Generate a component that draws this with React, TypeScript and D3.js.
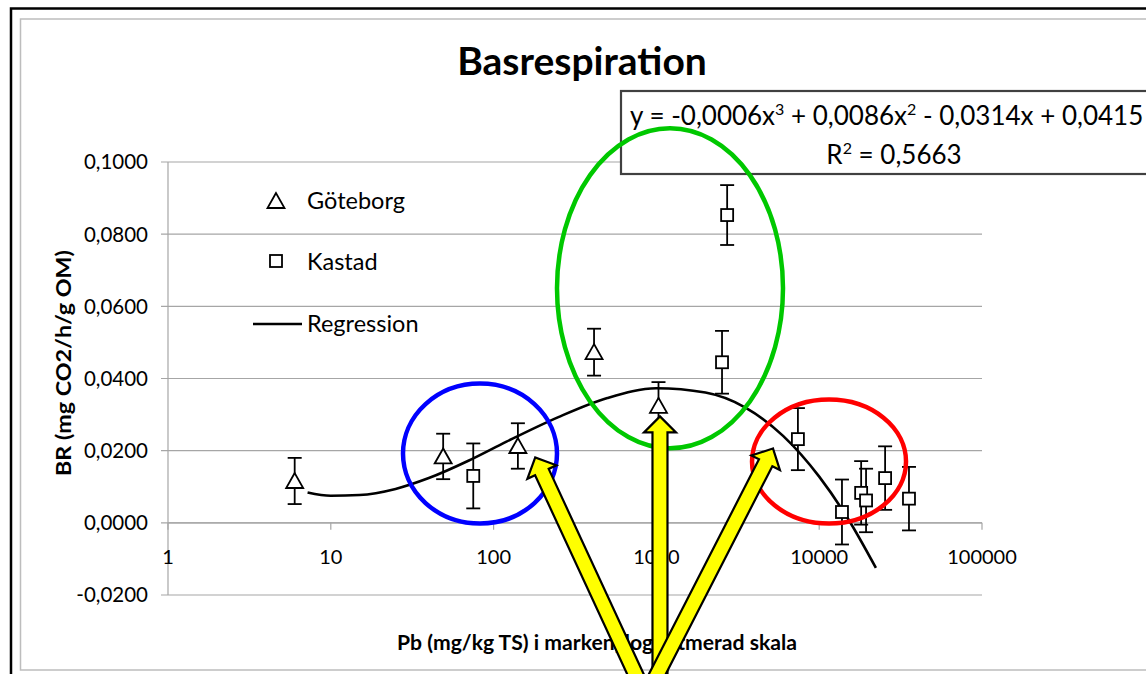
import { useEffect, useRef } from 'react';
import * as d3 from 'd3';

// Göteborg (triangles)
const gbgPb = [6, 49, 141, 414, 1030];
const gbgBr = [0.0116, 0.0184, 0.0213, 0.0473, 0.0324];
const gbgErr = [0.0064, 0.0063, 0.0063, 0.0065, 0.0066];

// Kastad (squares)
const kasPb = [75, 2530, 2720, 7400, 13800, 18100, 19400, 25400, 35600];
const kasBr = [0.013, 0.0445, 0.0853, 0.0232, 0.003, 0.0083, 0.0062, 0.0124, 0.0067];
const kasErr = [0.009, 0.0087, 0.0083, 0.0086, 0.009, 0.0088, 0.0088, 0.0088, 0.0088];

// Regression curve
const regPb = [7.2, 10, 15, 25, 40, 70, 120, 250, 500, 1000, 2000, 3500, 6000, 10000, 15000, 22300];
const regBr = [0.0084, 0.0075, 0.0077, 0.0094, 0.0124, 0.0172, 0.0225, 0.0293, 0.0346, 0.0373, 0.0361, 0.032, 0.0241, 0.0128, 0.0012, -0.0125];

const xTicks = [1, 10, 100, 1000, 10000, 100000];
const yTicks = [-0.02, 0, 0.02, 0.04, 0.06, 0.08, 0.1];

const titleText = 'Basrespiration';
const xTitle = 'Pb (mg/kg TS) i marken, logaritmerad skala';
const yTitle = 'BR (mg CO2/h/g OM)';
const legendLabels = ['Göteborg', 'Kastad', 'Regression'];

// hand-drawn highlights, centred in data units
const rings = [
  { pb: 82.5, br: 0.0192, rx: 77, ry: 70, color: '#0000ff' },
  { pb: 1212, br: 0.065, rx: 113, ry: 160, color: '#00c800' },
  { pb: 11490, br: 0.017, rx: 77, ry: 62, color: '#ff0000' },
];
const arrows = [
  { tipPb: 1052, tipBr: 0.0295, tailPb: 1052, tailBr: -0.05 },
  { tipPb: 180, tipBr: 0.0181, tailPb: 900, tailBr: -0.05 },
  { tipPb: 5200, tipBr: 0.0206, tailPb: 820, tailBr: -0.05 },
];

const FONT = 'Lato, "Open Sans", sans-serif';

function arrowPoints(tip: number[], tail: number[], shaft: number, head: number, headLen: number) {
  const dx = tail[0] - tip[0];
  const dy = tail[1] - tip[1];
  const len = Math.hypot(dx, dy);
  const ux = dx / len, uy = dy / len;
  const px = -uy, py = ux;
  const bx = tip[0] + ux * headLen, by = tip[1] + uy * headLen;
  const pts = [
    [tip[0], tip[1]],
    [bx + px * head, by + py * head],
    [bx + px * shaft, by + py * shaft],
    [tail[0] + px * shaft, tail[1] + py * shaft],
    [tail[0] - px * shaft, tail[1] - py * shaft],
    [bx - px * shaft, by - py * shaft],
    [bx - px * head, by - py * head],
  ];
  return pts.map(p => p.join(',')).join(' ');
}

export default function App() {
  const svgRef = useRef<SVGSVGElement>(null);

  useEffect(() => {
    if (!svgRef.current) return;
    const svg = d3.select(svgRef.current);
    svg.selectAll('*').remove();

    const x = d3.scaleLog().domain([1, 100000]).range([168, 982]);
    const y = d3.scaleLinear().domain([-0.02, 0.1]).range([595, 162]);
    const fmt = (v: number) => v.toFixed(4).replace('.', ',');

    // frames
    svg.append('rect').attr('width', 1146).attr('height', 674).attr('fill', '#fff');
    svg.append('rect').attr('x', 11).attr('y', 8.5).attr('width', 1200).attr('height', 700)
      .attr('fill', 'none').attr('stroke', '#000').attr('stroke-width', 2.5);
    svg.append('rect').attr('x', 20.5).attr('y', 19).attr('width', 1200).attr('height', 651)
      .attr('fill', 'none').attr('stroke', '#bdbdbd').attr('stroke-width', 1.5);

    // grid
    svg.append('g').selectAll('line').data(yTicks).enter().append('line')
      .attr('x1', 161).attr('x2', x(100000))
      .attr('y1', d => y(d)).attr('y2', d => y(d))
      .attr('stroke', '#a6a6a6').attr('stroke-width', 1.2);

    // y axis
    svg.append('line').attr('x1', x(1)).attr('x2', x(1)).attr('y1', y(0.1)).attr('y2', y(-0.02))
      .attr('stroke', '#a6a6a6').attr('stroke-width', 1.2);
    svg.append('g').selectAll('text').data(yTicks).enter().append('text')
      .attr('x', 148).attr('y', d => y(d)).attr('dy', '0.36em')
      .attr('text-anchor', 'end').attr('font-family', FONT).attr('font-size', 20.5)
      .text(d => fmt(d));

    // x axis at zero
    svg.append('line').attr('x1', x(1)).attr('x2', x(100000)).attr('y1', y(0)).attr('y2', y(0))
      .attr('stroke', '#a6a6a6').attr('stroke-width', 1.2);
    svg.append('g').selectAll('line').data(xTicks).enter().append('line')
      .attr('x1', d => x(d)).attr('x2', d => x(d)).attr('y1', y(0)).attr('y2', y(0) + 7)
      .attr('stroke', '#a6a6a6').attr('stroke-width', 1.2);
    svg.append('g').selectAll('text').data(xTicks).enter().append('text')
      .attr('x', d => x(d)).attr('y', y(0) + 41)
      .attr('text-anchor', 'middle').attr('font-family', FONT).attr('font-size', 20)
      .text(d => String(d));

    // axis titles
    svg.append('text').attr('x', 597).attr('y', 650).attr('text-anchor', 'middle')
      .attr('font-family', FONT).attr('font-weight', 'bold').attr('font-size', 20)
      .attr('textLength', 400).attr('lengthAdjust', 'spacingAndGlyphs').text(xTitle);
    svg.append('text').attr('transform', 'translate(71,363) rotate(-90)').attr('text-anchor', 'middle')
      .attr('font-family', FONT).attr('font-weight', 'bold').attr('font-size', 21)
      .attr('textLength', 226).attr('lengthAdjust', 'spacingAndGlyphs').text(yTitle);

    // title
    svg.append('text').attr('x', 582).attr('y', 75).attr('text-anchor', 'middle')
      .attr('font-family', FONT).attr('font-weight', 'bold').attr('font-size', 39).text(titleText);

    // regression
    const line = d3.line<number>().x((d, i) => x(regPb[i])).y(d => y(d)).curve(d3.curveMonotoneX);
    svg.append('path').datum(regBr).attr('d', line).attr('fill', 'none')
      .attr('stroke', '#000').attr('stroke-width', 2.6);

    // error bars
    const drawErr = (pb: number[], br: number[], err: number[]) => {
      const g = svg.append('g').attr('stroke', '#000').attr('stroke-width', 1.8);
      pb.forEach((p, i) => {
        const cx = x(p);
        const top = y(br[i] + err[i]);
        const bot = y(br[i] - err[i]);
        g.append('line').attr('x1', cx).attr('x2', cx).attr('y1', top).attr('y2', bot);
        g.append('line').attr('x1', cx - 7).attr('x2', cx + 7).attr('y1', top).attr('y2', top);
        g.append('line').attr('x1', cx - 7).attr('x2', cx + 7).attr('y1', bot).attr('y2', bot);
      });
    };
    drawErr(gbgPb, gbgBr, gbgErr);
    drawErr(kasPb, kasBr, kasErr);

    const tri = (cx: number, cy: number) =>
      `M${cx},${cy - 8}L${cx - 8.5},${cy + 7}L${cx + 8.5},${cy + 7}Z`;
    svg.append('g').selectAll('path').data(gbgBr).enter().append('path')
      .attr('d', (d, i) => tri(x(gbgPb[i]), y(d)))
      .attr('fill', '#fff').attr('stroke', '#000').attr('stroke-width', 1.8);
    svg.append('g').selectAll('rect').data(kasBr).enter().append('rect')
      .attr('x', (d, i) => x(kasPb[i]) - 6).attr('y', d => y(d) - 6)
      .attr('width', 12).attr('height', 12)
      .attr('fill', '#fff').attr('stroke', '#000').attr('stroke-width', 1.8);

    // legend
    const lg = svg.append('g').attr('font-family', FONT).attr('font-size', 23.5);
    lg.append('path').attr('d', tri(276, 201)).attr('fill', '#fff').attr('stroke', '#000').attr('stroke-width', 1.8);
    lg.append('rect').attr('x', 270).attr('y', 255).attr('width', 12).attr('height', 12)
      .attr('fill', '#fff').attr('stroke', '#000').attr('stroke-width', 1.8);
    lg.append('line').attr('x1', 253).attr('x2', 302).attr('y1', 324).attr('y2', 324)
      .attr('stroke', '#000').attr('stroke-width', 2.6);
    [201, 262, 324].forEach((ly, i) => {
      lg.append('text').attr('x', 307).attr('y', ly).attr('dy', '0.36em').text(legendLabels[i]);
    });

    // equation box
    svg.append('rect').attr('x', 621).attr('y', 91).attr('width', 600).attr('height', 83)
      .attr('fill', '#fff').attr('stroke', '#404040').attr('stroke-width', 2.2);
    const eq = svg.append('text').attr('x', 630).attr('y', 125)
      .attr('font-family', FONT).attr('font-size', 26);
    const sup = (s: string) => eq.append('tspan').attr('font-size', 16).attr('dy', -10).text(s);
    const norm = (s: string) => eq.append('tspan').attr('dy', 10).text(s);
    eq.append('tspan').text('y = -0,0006x');
    sup('3');
    norm(' + 0,0086x');
    sup('2');
    norm(' - 0,0314x + 0,0415');
    const r2 = svg.append('text').attr('x', 894).attr('y', 164).attr('text-anchor', 'middle')
      .attr('font-family', FONT).attr('font-size', 26);
    r2.append('tspan').text('R');
    r2.append('tspan').attr('font-size', 16).attr('dy', -10).text('2');
    r2.append('tspan').attr('dy', 10).text(' = 0,5663');

    // highlights
    svg.append('g').selectAll('ellipse').data(rings).enter().append('ellipse')
      .attr('cx', d => x(d.pb)).attr('cy', d => y(d.br))
      .attr('rx', d => d.rx).attr('ry', d => d.ry)
      .attr('fill', 'none').attr('stroke', d => d.color).attr('stroke-width', 4.5);
    svg.append('g').selectAll('polygon').data(arrows).enter().append('polygon')
      .attr('points', d => arrowPoints([x(d.tipPb), y(d.tipBr)], [x(d.tailPb), y(d.tailBr)], 7.5, 16, 16))
      .attr('fill', '#ffff00').attr('stroke', '#000').attr('stroke-width', 2.2)
      .attr('stroke-linejoin', 'miter');
  }, []);

  return (
    <svg
      ref={svgRef}
      width={1146}
      height={674}
      style={{ position: 'absolute', left: 0, top: 0, display: 'block' }}
    />
  );
}
